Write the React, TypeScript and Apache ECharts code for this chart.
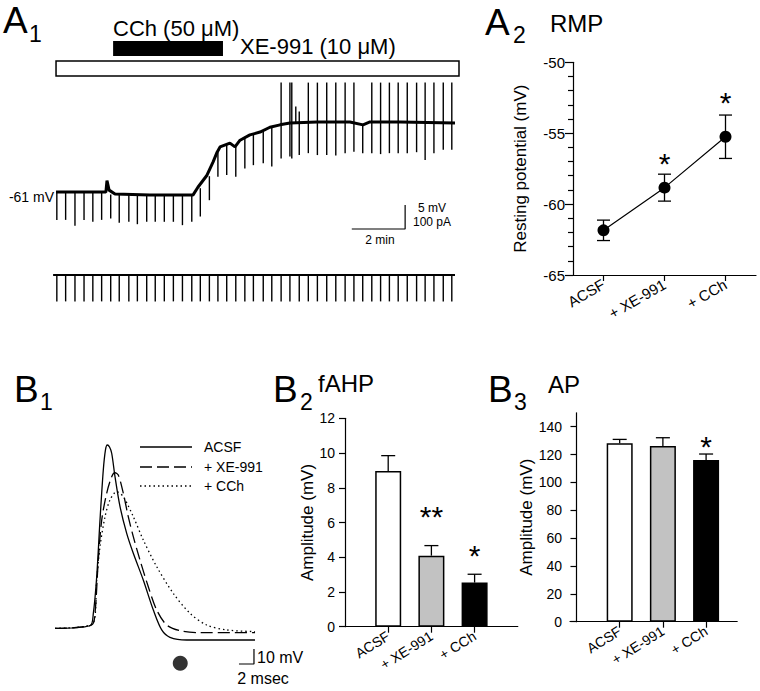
import React, { useEffect, useRef } from "react";
import * as echarts from "echarts";

const FONT = "'Liberation Sans', Arial, Helvetica, sans-serif";

// ---------- A1: membrane potential trace (time in min, mV) ----------
const vmTrace: number[][] = [
  [0, -60.8], [1.87, -60.8], [1.91, -58.4], [1.99, -60.4], [2.21, -61.2], [3.52, -61.4],
  [5.14, -61.4], [5.32, -59.8], [5.66, -57.3], [5.89, -54.5], [6.04, -52.5], [6.15, -51.4],
  [6.52, -50.6], [6.71, -51.4], [6.9, -50.0], [7.27, -48.9], [7.65, -48.3], [8.02, -47.3],
  [8.4, -46.8], [8.77, -46.4], [9.79, -46.2], [11.02, -46.2], [11.51, -46.8], [11.77, -46.2],
  [12.9, -46.2], [14.96, -46.4],
];
const pulseTimes = [
  0.03, 0.36, 0.71, 1.05, 1.38, 1.71, 2.05, 2.37, 2.73, 3.05, 3.4, 3.72, 4.06, 4.4, 4.74,
  5.09, 5.41, 5.75, 6.07, 6.4, 6.74, 7.08, 7.4, 7.77, 8.09, 8.44, 8.77, 9.12, 9.46, 9.8,
  10.15, 10.49, 10.84, 11.17, 11.5, 11.84, 12.17, 12.5, 12.83, 13.17, 13.52, 13.84, 14.17,
  14.52, 14.84,
];
const pulseTops = [
  -60.8, -60.8, -60.8, -60.8, -60.8, -60.8, -61.3, -61.3, -61.3, -61.3, -61.3, -61.3, -61.3,
  -61.3, -61.3, -61.3, -60.0, -57.5, -52.5, -51.0, -51.4, -49.3, -48.7, -48.1, -47.3, -38,
  -38, -44, -38, -38, -38, -38, -38, -38, -46.8, -38, -38, -38, -38, -38, -38, -38, -38, -38, -38,
];
const pulseBottoms = [
  -66.6, -66.6, -67.8, -66.6, -67.0, -66.6, -66.3, -67.2, -67.0, -67.5, -67.0, -67.0, -67.0,
  -67.0, -67.7, -67.0, -65.9, -62.5, -57.6, -57.25, -57.6, -55.9, -55.2, -54.8, -55.5, -53.8,
  -53.4, -53.1, -52.7, -53.1, -53.1, -53.2, -52.7, -52.4, -52.7, -52.7, -52.9, -52.7, -52.7,
  -52.7, -52.5, -54.1, -52.7, -52.0, -52.0,
];
const extraSpikes: number[][] = [[8.84, -38, -53.8], [8.99, -43, -46.4]];
const imTrace: number[][] = [[-0.11, 0], [14.96, 0]];
const imPulseBottom = -110;
const cchPeriod = [2.14, 6.26];
const xePeriod = [0, 15.11];
const vmScaleBar: number[][] = [[11.09, -68.5], [13.09, -68.5], [13.09, -63.5]];

// ---------- A2: RMP ----------
const conditions = ["ACSF", "+ XE-991", "+ CCh"];
const rmpMean = [-61.85, -58.84, -55.25];
const rmpSem = [0.72, 0.95, 1.53];
const rmpSig = ["", "*", "*"];
const rmpSigY = [NaN, -56.7, -52.4];

// ---------- B1: AP waveforms (ms, mV) ----------
const apAcsf: number[][] = [
  [0, -60], [4.67, -58.3], [5.11, -50], [5.56, -25.6], [6.0, 12.2], [6.44, 45.5], [6.73, 58.9],
  [6.97, 62.2], [7.27, 60.9], [7.56, 56.7], [8.0, 41.1], [8.67, 21.1], [9.56, 3.3], [10.44, -10],
  [11.77, -27.8], [13.11, -47.8], [14.23, -61.1], [15.33, -66], [17.56, -67.8], [26.67, -67.8],
];
const apXe: number[][] = [
  [0, -60], [4.89, -57.8], [5.33, -50], [5.77, -14.5], [6.23, 12.2], [6.89, 30], [7.56, 41.1],
  [8.0, 43.7], [8.44, 42.2], [9.11, 30], [9.77, 14.4], [10.44, 1.1], [11.33, -14.5],
  [12.44, -32.3], [13.56, -47.8], [14.89, -57.8], [16.67, -61.6], [19.33, -62.9], [26.67, -62.9],
];
const apCch: number[][] = [
  [0, -60], [5.11, -56.5], [5.56, -27.8], [6.0, -5.6], [6.67, 14.4], [7.33, 25.5], [8.22, 31.1],
  [9.11, 27.7], [10.44, 14.4], [11.77, -1.1], [13.56, -18.9], [15.77, -36.7], [18.0, -50],
  [20.22, -57.8], [22.89, -61.1], [26.67, -62.2],
];
const fahpMarker: number[][] = [[16.7, -83.3]];
const apScaleBar: number[][] = [[24.53, -83.8], [26.53, -83.8], [26.53, -73.8]];

// ---------- B2: fAHP ----------
const fahpMean = [8.97, 4.09, 2.54];
const fahpSem = [0.88, 0.58, 0.48];
const fahpSig = ["", "**", "*"];
const fahpSigY = [NaN, 6.72, 4.46];

// ---------- B3: AP amplitude ----------
const apAmpMean = [128.1, 126.1, 116.1];
const apAmpSem = [2.8, 6.0, 4.3];
const apAmpSig = ["", "", "*"];
const apAmpSigY = [NaN, NaN, 130.4];
const apAmpTicks = [0, 20, 40, 60, 80, 100, 120, 140];

const barColors = ["#ffffff", "#c2c2c2", "#000000"];

function vLineRender(width: number) {
  return (params: any, api: any) => {
    const a = api.coord([api.value(0), api.value(1)]);
    const b = api.coord([api.value(0), api.value(2)]);
    return {
      type: "line",
      shape: { x1: a[0], y1: a[1], x2: b[0], y2: b[1] },
      style: { stroke: "#000", lineWidth: width },
    };
  };
}

function errRender(both: boolean, capHalf: number) {
  return (params: any, api: any) => {
    const x = api.value(0), m = api.value(1), s = api.value(2);
    const t = api.coord([x, m + s]);
    const b = api.coord([x, both ? m - s : m]);
    const st = { stroke: "#000", lineWidth: 1.3 };
    const ch: any[] = [
      { type: "line", shape: { x1: t[0], y1: t[1], x2: b[0], y2: b[1] }, style: st },
      { type: "line", shape: { x1: t[0] - capHalf, y1: t[1], x2: t[0] + capHalf, y2: t[1] }, style: st },
    ];
    if (both) ch.push({ type: "line", shape: { x1: b[0] - capHalf, y1: b[1], x2: b[0] + capHalf, y2: b[1] }, style: st });
    return { type: "group", children: ch };
  };
}

function sigRender(labels: string[], size: number) {
  return (params: any, api: any) => {
    const lab = labels[params.dataIndex];
    if (!lab) return null;
    const p = api.coord([api.value(0), api.value(1)]);
    return {
      type: "text",
      x: p[0],
      y: p[1] + size * 0.21,
      style: {
        text: lab, fontSize: size, fontFamily: FONT, font: `${size}px ${FONT}`, fill: "#000",
        align: "center", textAlign: "center", verticalAlign: "middle", textVerticalAlign: "middle",
      },
    };
  };
}

function drugRender(params: any, api: any) {
  const x0 = api.coord([api.value(0), -50])[0];
  const x1 = api.coord([api.value(1), -50])[0];
  const top = params.coordSys.y;
  if (params.dataIndex === 0) {
    return { type: "rect", shape: { x: x0, y: top - 32, width: x1 - x0, height: 15 }, style: { fill: "#000" } };
  }
  return {
    type: "rect",
    shape: { x: x0, y: top - 12, width: x1 - x0, height: 15 },
    style: { fill: "#fff", stroke: "#000", lineWidth: 1.5 },
  };
}

function txt(text: string, x: number, y: number, size: number, align = "left") {
  return {
    type: "text",
    x,
    y,
    style: {
      text, fontSize: size, fontFamily: FONT, font: `${size}px ${FONT}`, fill: "#000",
      align, textAlign: align, verticalAlign: "middle", textVerticalAlign: "middle",
    },
  };
}

function gline(x1: number, y1: number, x2: number, y2: number, dash?: number[]) {
  return {
    type: "line",
    shape: { x1, y1, x2, y2 },
    style: { stroke: "#000", lineWidth: 1.3, lineDash: dash },
  };
}

const axLine = { show: true, lineStyle: { color: "#000", width: 1.2 } };
const tick = (len: number, custom?: number[]) => ({
  show: true, length: len, customValues: custom, alignWithLabel: true,
  lineStyle: { color: "#000", width: 1.2 },
});
const lab = (size: number, margin: number, extra: any = {}) => ({
  show: true, color: "#000", fontSize: size, fontFamily: FONT, margin, ...extra,
});
const hiddenAxis = (gridIndex: number, min: number, max: number) => ({
  type: "value", gridIndex, min, max, show: false,
});

function buildOption() {
  const pulseData = pulseTimes.map((t, i) => [t, pulseTops[i], pulseBottoms[i]]).concat(extraSpikes);
  const imPulseData = pulseTimes.map((t) => [t, 0, imPulseBottom]);
  const catLabel = (v: number) => conditions[Math.round(v) - 1] ?? "";

  return {
    animation: false,
    backgroundColor: "#fff",
    textStyle: { fontFamily: FONT },
    grid: [
      { left: 50.7, top: 73, width: 410.7, height: 163.2 },
      { left: 50.7, top: 270.2, width: 410.7, height: 36 },
      { left: 573, top: 62.3, width: 183, height: 212.7 },
      { left: 55, top: 433.3, width: 210, height: 240 },
      { left: 345, top: 418.3, width: 172.8, height: 208.4 },
      { left: 570, top: 412.8, width: 167.2, height: 208.9 },
    ],
    xAxis: [
      hiddenAxis(0, -0.2, 15.2),
      hiddenAxis(1, -0.2, 15.2),
      {
        type: "category", gridIndex: 2, data: conditions, boundaryGap: true,
        axisLine: axLine, axisTick: tick(6), axisLabel: lab(15, 8, { rotate: 30 }),
        splitLine: { show: false },
      },
      hiddenAxis(3, 0, 28),
      {
        type: "value", gridIndex: 4, min: 0, max: 4, interval: 1,
        axisLine: axLine, axisTick: tick(6, [1, 2, 3]),
        axisLabel: lab(14, 8, { rotate: 32, customValues: [1, 2, 3], formatter: catLabel }),
        splitLine: { show: false },
      },
      {
        type: "value", gridIndex: 5, min: -0.15, max: 3.72,
        axisLine: axLine, axisTick: tick(6, [1, 2, 3]),
        axisLabel: lab(14, 8, { rotate: 32, customValues: [1, 2, 3], formatter: catLabel }),
        splitLine: { show: false },
      },
    ],
    yAxis: [
      hiddenAxis(0, -70, -36),
      hiddenAxis(1, -130, 20),
      {
        type: "value", gridIndex: 2, min: -65, max: -50, interval: 5,
        axisLine: axLine, axisTick: tick(8),
        minorTick: { show: true, splitNumber: 5, length: 5, lineStyle: { color: "#000", width: 1.2 } },
        axisLabel: lab(15, 8), splitLine: { show: false },
        name: "Resting potential (mV)", nameLocation: "middle", nameGap: 44,
        nameTextStyle: { fontSize: 17, color: "#000", fontFamily: FONT },
      },
      hiddenAxis(3, -90, 70),
      {
        type: "value", gridIndex: 4, min: 0, max: 12, interval: 2,
        axisLine: axLine, axisTick: tick(6), axisLabel: lab(14, 10), splitLine: { show: false },
        name: "Amplitude (mV)", nameLocation: "middle", nameGap: 26,
        nameTextStyle: { fontSize: 17, color: "#000", fontFamily: FONT },
      },
      {
        type: "value", gridIndex: 5, min: 0, max: 150,
        axisLine: axLine, axisTick: tick(6, apAmpTicks),
        axisLabel: lab(14, 8, { customValues: apAmpTicks }), splitLine: { show: false },
        name: "Amplitude (mV)", nameLocation: "middle", nameGap: 32,
        nameTextStyle: { fontSize: 17, color: "#000", fontFamily: FONT },
      },
    ],
    series: [
      // A1
      {
        type: "custom", xAxisIndex: 0, yAxisIndex: 0, renderItem: drugRender,
        data: [cchPeriod, xePeriod], silent: true,
      },
      {
        type: "line", xAxisIndex: 0, yAxisIndex: 0, data: vmTrace, symbol: "none",
        lineStyle: { color: "#000", width: 3 }, clip: false,
      },
      {
        type: "custom", xAxisIndex: 0, yAxisIndex: 0, renderItem: vLineRender(1.4),
        data: pulseData, silent: true,
      },
      {
        type: "line", xAxisIndex: 0, yAxisIndex: 0, data: vmScaleBar, symbol: "none",
        lineStyle: { color: "#000", width: 1.2 }, clip: false,
      },
      {
        type: "line", xAxisIndex: 1, yAxisIndex: 1, data: imTrace, symbol: "none",
        lineStyle: { color: "#000", width: 2.2 }, clip: false,
      },
      {
        type: "custom", xAxisIndex: 1, yAxisIndex: 1, renderItem: vLineRender(1.4),
        data: imPulseData, silent: true,
      },
      // A2
      {
        type: "custom", xAxisIndex: 2, yAxisIndex: 2, renderItem: errRender(true, 6.5),
        data: rmpMean.map((m, i) => [i, m, rmpSem[i]]), silent: true,
      },
      {
        type: "line", xAxisIndex: 2, yAxisIndex: 2, data: rmpMean, symbol: "circle",
        symbolSize: 12, itemStyle: { color: "#000" }, lineStyle: { color: "#000", width: 1.2 },
      },
      {
        type: "custom", xAxisIndex: 2, yAxisIndex: 2, renderItem: sigRender(rmpSig, 30),
        data: rmpSigY.map((y, i) => [i, y]), silent: true,
      },
      // B1
      {
        type: "line", xAxisIndex: 3, yAxisIndex: 3, data: apAcsf, symbol: "none", smooth: 0.3,
        lineStyle: { color: "#000", width: 1.3 }, clip: false,
      },
      {
        type: "line", xAxisIndex: 3, yAxisIndex: 3, data: apXe, symbol: "none", smooth: 0.3,
        lineStyle: { color: "#000", width: 1.3, type: [12, 5] }, clip: false,
      },
      {
        type: "line", xAxisIndex: 3, yAxisIndex: 3, data: apCch, symbol: "none", smooth: 0.3,
        lineStyle: { color: "#000", width: 1.3, type: [1.5, 3] }, clip: false,
      },
      {
        type: "scatter", xAxisIndex: 3, yAxisIndex: 3, data: fahpMarker, symbol: "circle",
        symbolSize: 15, itemStyle: { color: "#000" }, clip: false,
      },
      {
        type: "line", xAxisIndex: 3, yAxisIndex: 3, data: apScaleBar, symbol: "none",
        lineStyle: { color: "#000", width: 1.2 }, clip: false,
      },
      // B2
      {
        type: "bar", xAxisIndex: 4, yAxisIndex: 4, barWidth: 26,
        data: fahpMean.map((m, i) => ({
          value: [i + 1, m],
          itemStyle: { color: barColors[i], borderColor: "#000", borderWidth: 1.5 },
        })),
      },
      {
        type: "custom", xAxisIndex: 4, yAxisIndex: 4, renderItem: errRender(false, 7),
        data: fahpMean.map((m, i) => [i + 1, m, fahpSem[i]]), silent: true, z: 3,
      },
      {
        type: "custom", xAxisIndex: 4, yAxisIndex: 4, renderItem: sigRender(fahpSig, 30),
        data: fahpSigY.map((y, i) => [i + 1, y]), silent: true,
      },
      // B3
      {
        type: "bar", xAxisIndex: 5, yAxisIndex: 5, barWidth: 26,
        data: apAmpMean.map((m, i) => ({
          value: [i + 1, m],
          itemStyle: { color: barColors[i], borderColor: "#000", borderWidth: 1.5 },
        })),
      },
      {
        type: "custom", xAxisIndex: 5, yAxisIndex: 5, renderItem: errRender(false, 7),
        data: apAmpMean.map((m, i) => [i + 1, m, apAmpSem[i]]), silent: true, z: 3,
      },
      {
        type: "custom", xAxisIndex: 5, yAxisIndex: 5, renderItem: sigRender(apAmpSig, 30),
        data: apAmpSigY.map((y, i) => [i + 1, y]), silent: true,
      },
    ],
    graphic: [
      // A1 labels
      txt("A", 3, 20, 37),
      txt("1", 29, 34, 23),
      txt("CCh (50 \u03bcM)", 113, 28, 22),
      txt("XE-991 (10 \u03bcM)", 240, 46.5, 22),
      txt("-61 mV", 54, 197, 14, "right"),
      txt("5 mV", 418, 208, 12),
      txt("100 pA", 413, 222, 12),
      txt("2 min", 380, 240, 12, "center"),
      // A2 labels
      txt("A", 485, 22, 37),
      txt("2", 513, 35, 23),
      txt("RMP", 550, 23.5, 24),
      // B1 labels
      txt("B", 14, 389, 37),
      txt("1", 40, 402, 23),
      gline(140, 447, 192, 447),
      gline(140, 467, 192, 467, [12, 5]),
      gline(140, 486, 192, 486, [1.5, 3]),
      txt("ACSF", 204, 447, 14),
      txt("+ XE-991", 204, 467, 14),
      txt("+ CCh", 204, 486, 14),
      txt("10 mV", 257, 657, 16),
      txt("2 msec", 263, 678, 16, "center"),
      // B2 labels
      txt("B", 273, 389, 37),
      txt("2", 300, 402, 23),
      txt("fAHP", 318, 383, 24),
      // B3 labels
      txt("B", 488, 389, 37),
      txt("3", 514, 402, 23),
      txt("AP", 548, 384, 24),
    ],
  };
}

export default function App() {
  const ref = useRef<HTMLDivElement>(null);
  useEffect(() => {
    const chart = echarts.init(ref.current!, null, { renderer: "svg" });
    chart.setOption(buildOption() as any);
    return () => chart.dispose();
  }, []);
  return (
    <div
      ref={ref}
      style={{ position: "absolute", left: 0, top: 0, width: 760, height: 691, background: "#fff" }}
    />
  );
}
